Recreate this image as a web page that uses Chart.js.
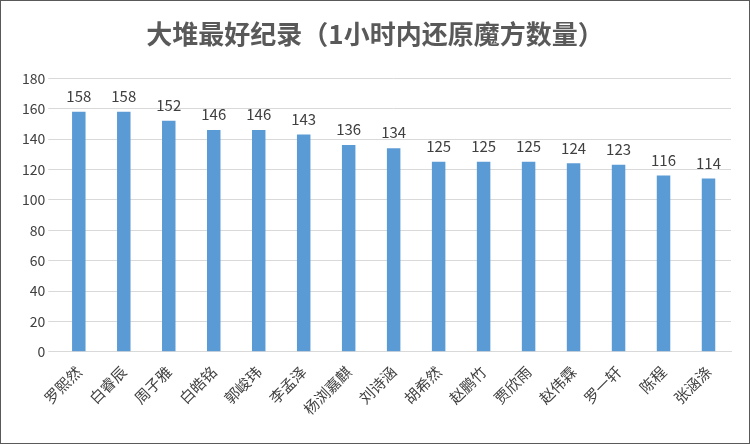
<!DOCTYPE html>
<html>
<head>
<meta charset="utf-8">
<script src="https://cdn.jsdelivr.net/npm/chart.js@4"></script>
<style>
  html, body { margin: 0; padding: 0; background: #fff; }
  #wrap { width: 748px; height: 442px; border: 1px solid #595959; }
</style>
</head>
<body>
<div id="wrap"><canvas id="chart" width="748" height="442"></canvas></div>
<script>
const names = ['罗熙然', '白睿辰', '周子雅', '白皓铭', '郭峻玮', '李孟泽', '杨浏嘉麒', '刘诗涵',
               '胡希然', '赵鹏竹', '贾欣雨', '赵伟霖', '罗一轩', '陈程', '张涵涤'];
const counts = [158, 158, 152, 146, 146, 143, 136, 134, 125, 125, 125, 124, 123, 116, 114];

// draw value above each bar
const valueLabels = {
    id: 'valueLabels',
    afterDatasetsDraw(chart) {
        const ctx = chart.ctx;
        const meta = chart.getDatasetMeta(0);
        ctx.save();
        ctx.font = '15px "Noto Sans CJK SC", sans-serif';
        ctx.fillStyle = '#404040';
        ctx.textAlign = 'center';
        ctx.textBaseline = 'bottom';
        meta.data.forEach((bar, i) => {
            ctx.fillText(counts[i], bar.x, bar.y - 8);
        });
        ctx.restore();
    }
};

new Chart(document.getElementById('chart').getContext('2d'), {
    type: 'bar',
    data: {
        labels: names,
        datasets: [{
            data: counts,
            backgroundColor: '#5B9BD5',
            categoryPercentage: 1,
            barPercentage: 0.3
        }]
    },
    options: {
        responsive: false,
        animation: false,
        layout: { padding: { left: 18, right: 18, top: 8, bottom: 22 } },
        plugins: {
            legend: { display: false },
            tooltip: { enabled: false },
            title: {
                display: true,
                text: '大堆最好纪录（1小时内还原魔方数量）',
                color: '#595959',
                font: { size: 26, weight: 'bold', family: '"Noto Sans CJK SC", serif' },
                padding: { top: 10, bottom: 28 }
            }
        },
        scales: {
            y: {
                min: 0, max: 180,
                ticks: { stepSize: 20, color: '#404040', font: { size: 14, family: '"Noto Sans CJK SC", sans-serif' } },
                grid: { color: '#d9d9d9' },
                border: { display: false }
            },
            x: {
                ticks: {
                    color: '#404040', maxRotation: 45, minRotation: 45,
                    font: { size: 15, family: '"Noto Sans CJK SC", serif' }
                },
                grid: { display: false },
                border: { color: '#d9d9d9' }
            }
        }
    },
    plugins: [valueLabels]
});
</script>
</body>
</html>
